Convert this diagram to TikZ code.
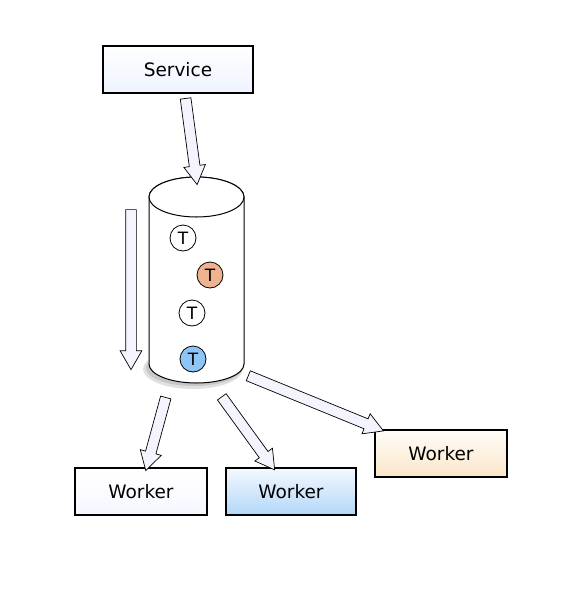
\documentclass[tikz,border=0pt]{standalone}
\usepackage{fontspec}
\setmainfont{DejaVu Sans}
\usepackage{tikz}
\usetikzlibrary{calc}
\usetikzlibrary{shapes.arrows}

\definecolor{arrowfill}{HTML}{F4F4FF}
\definecolor{servicefill}{HTML}{EEF3FF}
\definecolor{plainfill}{HTML}{F6F7FF}
\definecolor{bluetoken}{HTML}{8EC5F7}
\definecolor{orangetoken}{HTML}{F0B390}
\definecolor{blueworker}{HTML}{B2D7F8}
\definecolor{orangeworker}{HTML}{FBE6C8}

\tikzset{
  box/.style={draw, line width=1.7pt, minimum width=132pt, minimum height=47pt,
    inner sep=0pt, font=\fontsize{18.5}{22}\selectfont},
  token/.style={draw, circle, line width=0.8pt, minimum size=26pt, inner sep=0pt,
    fill=white, font=\fontsize{17}{20}\selectfont},
  flow/.style={shape=single arrow, draw, line width=0.7pt, fill=arrowfill,
    inner sep=5pt, single arrow head extend=5.5pt, single arrow tip angle=60,
    minimum width=0pt}
}

\newcommand{\flowarrow}[2]{%
  \path let \p1=(#1), \p2=(#2), \n1={atan2(\y2-\y1,\x2-\x1)},
    \n2={veclen(\x2-\x1,\y2-\y1)} in
    node[flow, minimum height=\n2, rotate=\n1] at ($(#1)!0.5!(#2)$) {};}

\begin{document}
\begin{tikzpicture}[x=1pt, y=-1pt]
\useasboundingbox (0,0) rectangle (581,590);

\node[box, minimum width=150pt, top color=white, bottom color=servicefill] (service) at (178,69.5) {Service};
\node[box, top color=white, bottom color=plainfill] (w1) at (141,491.5) {Worker};
\node[box, minimum width=130pt, top color=white!85!blueworker, bottom color=blueworker] (w2) at (291,491.5) {Worker};
\node[box, top color=white!90!orangeworker, bottom color=orangeworker] (w3) at (441,453.5) {Worker};

% queue
\fill[black!12] (193,369) ellipse [x radius=50, y radius=20];
\fill[black!22] (194,368) ellipse [x radius=48, y radius=18];
\draw[line width=1pt, fill=white] (149,197) -- (149,364)
  arc[start angle=180, end angle=0, x radius=47.5, y radius=19] -- (244,197)
  arc[start angle=0, end angle=-180, x radius=47.5, y radius=20] -- cycle;
\draw[line width=1pt, fill=white] (196.5,197) ellipse [x radius=47.5, y radius=20];
\coordinate (queuetop) at (196.5,177);
\coordinate (queue) at (196.5,383);

\node[token] (t1) at (183,238) {T};
\node[token, fill=orangetoken] (t2) at (210,275) {T};
\node[token] (t3) at (192,313) {T};
\node[token, fill=bluetoken] (t4) at (193,359) {T};

\coordinate (a1) at ($(service.south)+(7,0)$);
\coordinate (a2) at ($(queuetop)+(0,3)$);
\coordinate (l1) at (131,205);
\coordinate (l2) at (131,365);
\coordinate (b1) at ($(queue)+(-29.5,10)$);
\coordinate (b2) at ($(w1.north)+(6,-1)$);
\coordinate (c1) at ($(queue)+(22.5,10)$);
\coordinate (c2) at ($(w2.north)+(-19,-1)$);
\coordinate (d1) at ($(queue)+(47.5,-9)$);
\coordinate (d2) at ($(w3.north west)+(5,0)$);

\flowarrow{a1}{a2}
\flowarrow{l1}{l2}
\flowarrow{b1}{b2}
\flowarrow{c1}{c2}
\flowarrow{d1}{d2}
\end{tikzpicture}
\end{document}
